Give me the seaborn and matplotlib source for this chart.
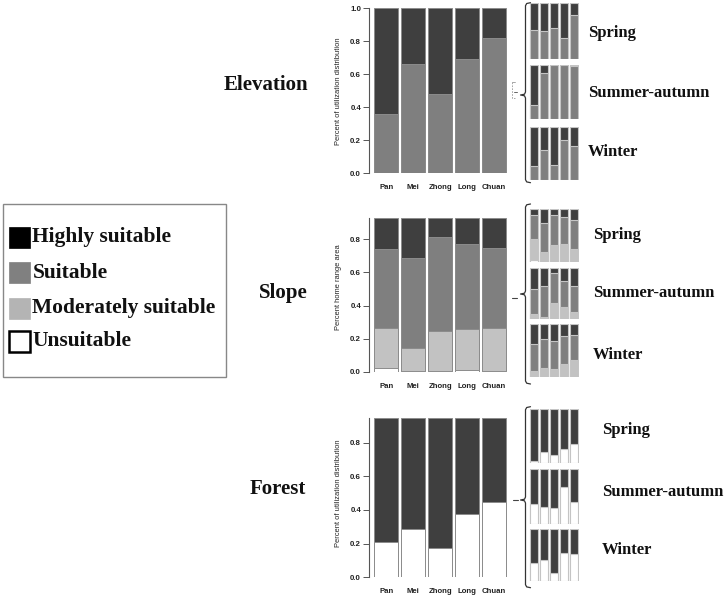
import numpy as np
import pandas as pd
import matplotlib
matplotlib.use("Agg")
import matplotlib.pyplot as plt
from matplotlib.patches import Rectangle
from matplotlib.ticker import MultipleLocator
import seaborn as sns

sns.set_style("white")
plt.rcParams['font.family'] = ['Liberation Sans', 'DejaVu Sans']

# ---------------- data ----------------
sites = ["Pan", "Mei", "Zhong", "Long", "Chuan"]
classes = ["Unsuitable", "Moderately suitable", "Suitable", "Highly suitable"]
seasons = ["Spring", "Summer-autumn", "Winter"]

# Elevation (utilization distribution)
elev_suitable = [0.36, 0.66, 0.48, 0.69, 0.82]
elev_highly = [0.64, 0.34, 0.52, 0.31, 0.18]
elev_spring_suitable = [0.52, 0.50, 0.55, 0.38, 0.79]
elev_summer_suitable = [0.27, 0.86, 1.00, 1.00, 0.98]
elev_winter_suitable = [0.27, 0.56, 0.28, 0.75, 0.64]

# Slope (home range area)
slope_unsuitable = [0.024, 0.005, 0.005, 0.012, 0.005]
slope_moderate = [0.240, 0.137, 0.244, 0.247, 0.262]
slope_suitable = [0.476, 0.546, 0.565, 0.509, 0.481]
slope_highly = [0.185, 0.237, 0.111, 0.157, 0.177]
slope_spring_unsuitable = [0.03, 0.0, 0.0, 0.0, 0.0]
slope_spring_moderate = [0.41, 0.19, 0.32, 0.33, 0.25]
slope_spring_suitable = [0.45, 0.54, 0.57, 0.51, 0.55]
slope_summer_moderate = [0.10, 0.05, 0.32, 0.23, 0.14]
slope_summer_suitable = [0.49, 0.60, 0.57, 0.51, 0.51]
slope_winter_moderate = [0.11, 0.17, 0.14, 0.25, 0.32]
slope_winter_suitable = [0.51, 0.54, 0.54, 0.53, 0.47]

# Forest (utilization distribution)
forest_unsuitable = [0.208, 0.285, 0.176, 0.374, 0.450]
forest_highly = [0.737, 0.660, 0.769, 0.571, 0.495]
forest_spring_unsuitable = [0.05, 0.20, 0.16, 0.26, 0.35]
forest_summer_unsuitable = [0.36, 0.31, 0.29, 0.68, 0.41]
forest_winter_unsuitable = [0.35, 0.40, 0.16, 0.54, 0.51]

# ---------------- styles ----------------
C_HIGH = "#3f3f3f"
C_SUIT = "#7f7f7f"
C_MOD = "#c2c2c2"
C_UNS = "#ffffff"
SERIF = ["Liberation Serif", "DejaVu Serif"]

W, H = 725, 599
fig = plt.figure(figsize=(W / 100, H / 100), dpi=100)


def px_axes(x0, x1, ytop, ybot):
    return fig.add_axes([x0 / W, 1 - ybot / H, (x1 - x0) / W, (ybot - ytop) / H])


def stacked(ax, layers, colors, width, ec, lw):
    arr = np.array(layers, dtype=float)
    cum = np.cumsum(arr, axis=0)
    for i in reversed(range(len(arr))):
        df = pd.DataFrame({"site": sites, "value": cum[i]})
        sns.barplot(data=df, x="site", y="value", order=sites, color=colors[i],
                    width=width, edgecolor=ec, linewidth=lw, saturation=1,
                    errorbar=None, ax=ax)
    return cum[-1].max()


def main_panel(ytop, ybot, layers, colors, ylabel, label_y, show_x=True):
    ax = px_axes(369, 508, ytop, ybot)
    ymax = stacked(ax, layers, colors, 0.9, "#8c8c8c", 0.7)
    ax.set_xlim(-0.64, 4.51)
    ax.set_ylim(0, ymax)
    for s in ["top", "right", "bottom"]:
        ax.spines[s].set_visible(False)
    ax.spines["left"].set_color("#555555")
    ax.spines["left"].set_linewidth(0.8)
    ax.spines["left"].set_bounds(0, ymax)
    ax.yaxis.set_major_locator(MultipleLocator(0.2))
    ax.set_yticks(ax.get_yticks())
    ax.set_yticklabels([f"{t:.1f}" for t in ax.get_yticks()])
    ax.set_ylim(0, ymax)
    ax.tick_params(axis="y", length=4.2, width=0.7, color="#555555", pad=1.5,
                   labelsize=5.7, left=True)
    for t in ax.get_yticklabels():
        t.set_fontweight("bold")
        t.set_color("#222222")
    ax.tick_params(axis="x", length=0, pad=8, labelsize=5.6)
    for t in ax.get_xticklabels():
        t.set_fontweight("bold")
        t.set_color("#222222")
    if not show_x:
        ax.set_xticklabels([])
    ax.set_xlabel("")
    ax.set_ylabel(ylabel, fontsize=5.4, color="#222222")
    ax.yaxis.set_label_coords(-0.196, label_y)
    ax.patch.set_alpha(0)
    return ax


def small_panel(ytop, ybot, layers, colors):
    ax = px_axes(529, 579, ytop, ybot)
    stacked(ax, layers, colors, 0.85, "#c4c4c4", 0.8)
    ax.set_xlim(-0.5, 4.5)
    ax.set_ylim(0, 1.0)
    ax.set_axis_off()
    return ax


one = np.ones(5)

# ---- Elevation ----
main_panel(8.3, 173.3, [elev_suitable, elev_highly], [C_SUIT, C_HIGH],
           "Percent of utilization distribution", 0.5)
elev_small = [elev_spring_suitable, elev_summer_suitable, elev_winter_suitable]
for (yt, yb), s in zip([(2.7, 59.3), (65.3, 119), (126.7, 180)], elev_small):
    s = np.array(s)
    small_panel(yt, yb, [s, one - s], [C_SUIT, C_HIGH])

# ---- Slope ----
main_panel(218.3, 372, [slope_unsuitable, slope_moderate, slope_suitable, slope_highly],
           [C_UNS, C_MOD, C_SUIT, C_HIGH], "Percent home range area", 0.555)
slope_small = [
    (slope_spring_unsuitable, slope_spring_moderate, slope_spring_suitable),
    (np.zeros(5), slope_summer_moderate, slope_summer_suitable),
    (np.zeros(5), slope_winter_moderate, slope_winter_suitable),
]
for (yt, yb), (u, m, s) in zip([(209, 261.7), (267.7, 319.3), (324, 376.7)], slope_small):
    u, m, s = map(np.array, (u, m, s))
    small_panel(yt, yb, [u, m, s, one - u - m - s], [C_UNS, C_MOD, C_SUIT, C_HIGH])

# ---- Forest ----
main_panel(418.3, 577.3, [forest_unsuitable, forest_highly], [C_UNS, C_HIGH],
           "Percent of utilization distribution", 0.53)
forest_small = [forest_spring_unsuitable, forest_summer_unsuitable, forest_winter_unsuitable]
for (yt, yb), u in zip([(409, 463.3), (469.3, 524), (529, 581)], forest_small):
    u = np.array(u)
    small_panel(yt, yb, [u, one - u], [C_UNS, C_HIGH])

# ---------------- overlay: labels, braces, legend ----------------
ov = fig.add_axes([0, 0, 1, 1], zorder=10)
ov.set_xlim(0, W)
ov.set_ylim(H, 0)
ov.set_axis_off()
ov.patch.set_alpha(0)

for txt, x, y in [("Elevation", 308, 85), ("Slope", 308, 293), ("Forest", 306, 489)]:
    ov.text(x, y, txt, ha="right", va="center", fontsize=15, fontweight="bold",
            family=SERIF, color="#111111")

season_pos = [
    (588, [33, 93, 152]),
    (593, [235, 293, 355]),
    (602, [430, 492, 550]),
]
for x, ys in season_pos:
    for s, y in zip(seasons, ys):
        ov.text(x, y, s, ha="left", va="center", fontsize=12, fontweight="bold",
                family=SERIF, color="#111111")


def brace(top, bot, mid, x=525.5, tip=520.5, hook=530.5):
    r = 3.0
    xs = [hook, x + 1.2, x, x, x - 1.0, tip, x - 1.0, x, x, x + 1.2, hook]
    ys = [top, top + 0.8, top + r, mid - r, mid - 0.8, mid, mid + 0.8, mid + r,
          bot - r, bot - 0.8, bot]
    ov.plot(xs, ys, color="#333333", lw=0.9, solid_joinstyle="round")


brace(2.7, 182.7, 95)
brace(204, 384, 294)
brace(406.7, 587.7, 500)

# connectors from main panels
ov.plot([512.5, 517], [298.3, 298.3], color="#444444", lw=0.8)
ov.plot([513, 518], [500, 500], color="#444444", lw=0.8)
ov.plot([512, 512, 515], [82, 98, 98], color="#999999", lw=0.6, ls=(0, (2, 1.5)))
ov.plot([512, 515.5], [82, 82], color="#999999", lw=0.6)
ov.plot([514, 517], [92, 92], color="#666666", lw=0.7)

# legend box
ov.add_patch(Rectangle((3, 204), 223, 173, facecolor="white", edgecolor="#888888", lw=1.0))
leg = [
    ("Highly suitable", "#000000", "#000000", 237),
    ("Suitable", "#808080", "#808080", 272.5),
    ("Moderately suitable", "#b4b4b4", "#b4b4b4", 308),
    ("Unsuitable", "#ffffff", "#000000", 341),
]
for lab, fc, ec, yc in leg:
    ov.add_patch(Rectangle((9.5, yc - 10.5), 21, 21, facecolor=fc, edgecolor=ec,
                           lw=1.8 if fc == "#ffffff" else 0.5))
    ov.text(32.5, yc, lab, ha="left", va="center", fontsize=15.5, fontweight="bold",
            family=SERIF, color="#111111")

fig.savefig("out.png", dpi=100)
